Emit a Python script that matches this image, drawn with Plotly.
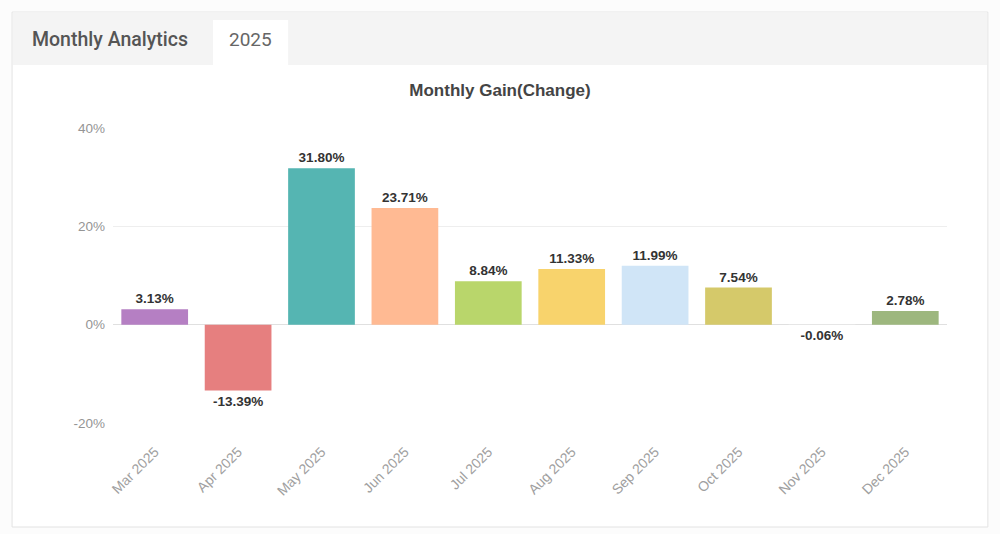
import plotly.graph_objects as go

months = ['Mar 2025', 'Apr 2025', 'May 2025', 'Jun 2025', 'Jul 2025',
          'Aug 2025', 'Sep 2025', 'Oct 2025', 'Nov 2025', 'Dec 2025']
gains = [3.13, -13.39, 31.80, 23.71, 8.84, 11.33, 11.99, 7.54, -0.06, 2.78]
bar_colors = ['#b57fc3', '#e67f7f', '#55b5b2', '#ffba93', '#b9d66b',
              '#f8d36c', '#d0e5f7', '#d5c96a', '#e6e6e6', '#9db77e']
y_ticks = [-20, 0, 20, 40]

fig = go.Figure()

fig.add_trace(go.Bar(
    x=months,
    y=gains,
    marker=dict(color=bar_colors, line=dict(width=0)),
    text=['%.2f%%' % g for g in gains],
    textposition='outside',
    textfont=dict(family='Liberation Sans, Arial', size=13.5, color='#333333', weight='bold'),
    cliponaxis=False,
    hovertemplate='%{x}: %{y:.2f}%<extra></extra>',
))

# card + tab header drawn on the paper
fig.add_shape(type='rect', xref='paper', yref='paper', layer='below',
              x0=-0.121, x1=1.049, y0=-0.3525, y1=1.393,
              fillcolor='#ffffff', line=dict(color='#e3e3e3', width=1))
fig.add_shape(type='rect', xref='paper', yref='paper', layer='below',
              x0=-0.12, x1=1.048, y0=1.2136, y1=1.392,
              fillcolor='#f4f4f4', line=dict(width=0))
fig.add_shape(type='rect', xref='paper', yref='paper', layer='below',
              x0=0.12, x1=0.21, y0=1.2136, y1=1.366,
              fillcolor='#ffffff', line=dict(width=0))

fig.add_annotation(text='Monthly Analytics', xref='paper', yref='paper',
                   x=-0.1, y=1.30, xanchor='left', yanchor='middle',
                   showarrow=False,
                   font=dict(family='Roboto', size=19.5, color='#555555', weight=500))
fig.add_annotation(text='2025', xref='paper', yref='paper',
                   x=0.165, y=1.30, xanchor='center', yanchor='middle',
                   showarrow=False,
                   font=dict(family='Roboto', size=19, color='#666666'))

fig.update_layout(
    width=1000,
    height=534,
    margin=dict(l=113, r=53, t=128, b=111),
    paper_bgcolor='#fcfcfc',
    plot_bgcolor='#ffffff',
    showlegend=False,
    bargap=0.2,
    title=dict(text='<b>Monthly Gain(Change)</b>', x=0.5, xanchor='center',
               y=0.832, yanchor='middle',
               font=dict(family='Liberation Sans, Arial', size=17, color='#444444')),
    xaxis=dict(
        tickangle=-45,
        tickfont=dict(family='Liberation Sans, Arial', size=14, color='#a0a0a0'),
        showgrid=False,
        showline=False,
        ticks='',
        ticklabelstandoff=17,
    ),
    yaxis=dict(
        range=[-20, 40],
        tickvals=y_ticks,
        ticktext=['%d%%' % t for t in y_ticks],
        tickfont=dict(family='Liberation Sans, Arial', size=13.5, color='#959595'),
        gridcolor='#eeeeee',
        zeroline=True,
        zerolinecolor='#e0e0e0',
        zerolinewidth=1,
        showline=False,
        ticks='',
        ticklabelstandoff=7,
    ),
)

fig.write_html('out.html', config={'displayModeBar': False},
               post_script="document.body.style.margin='0';")
